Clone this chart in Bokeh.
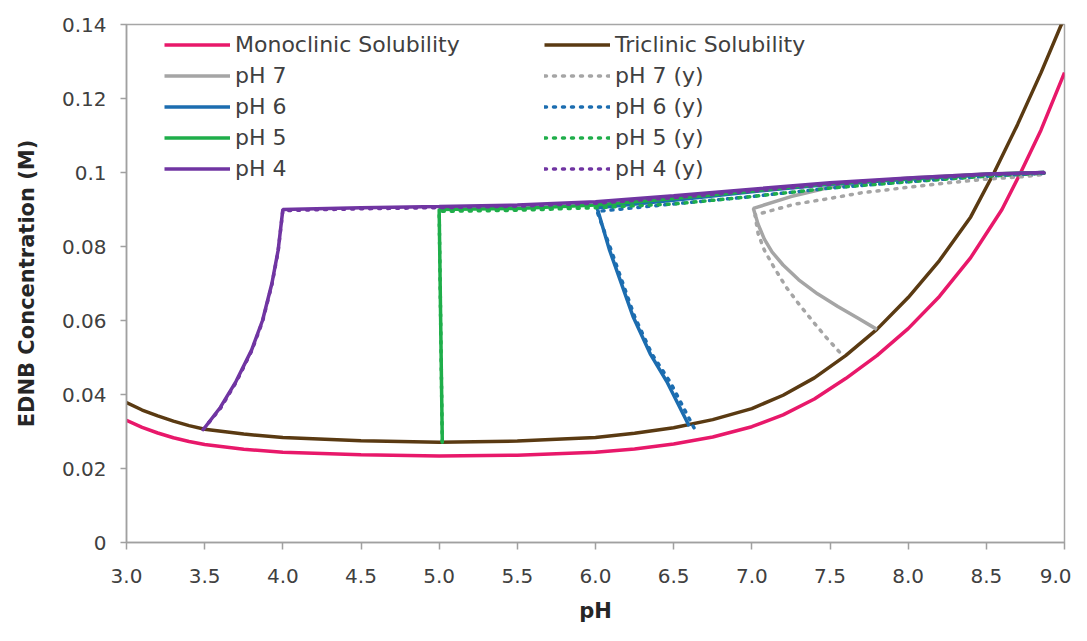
from bokeh.plotting import figure
from bokeh.models import Legend, LegendItem, FixedTicker, Range1d
from bokeh.embed import file_html
from bokeh.resources import INLINE

# ---- data ----
mono_x = [3.0, 3.1, 3.2, 3.3, 3.4, 3.5, 3.75, 4.0, 4.5, 5.0, 5.5, 6.0, 6.25, 6.5, 6.75, 7.0, 7.2, 7.4, 7.6,
          7.8, 8.0, 8.2, 8.4, 8.6, 8.72, 8.85, 9.0]
mono_y = [0.0330, 0.0311, 0.0296, 0.0283, 0.0273, 0.0265, 0.0252, 0.0244, 0.0237, 0.0234, 0.0236, 0.0244,
          0.0253, 0.0266, 0.0285, 0.0313, 0.0345, 0.0388, 0.0443, 0.0505, 0.0578, 0.0665, 0.0770, 0.0900,
          0.1000, 0.1115, 0.1270]
tri_x = [3.0, 3.1, 3.2, 3.3, 3.4, 3.5, 3.75, 4.0, 4.5, 5.0, 5.5, 6.0, 6.25, 6.5, 6.75, 7.0, 7.2, 7.4, 7.6,
         7.8, 8.0, 8.2, 8.4, 8.55, 8.7, 8.85, 9.0]
tri_y = [0.0378, 0.0358, 0.0342, 0.0328, 0.0316, 0.0306, 0.0293, 0.0284, 0.0275, 0.0271, 0.0274, 0.0284,
         0.0295, 0.0310, 0.0332, 0.0362, 0.0398, 0.0445, 0.0505, 0.0576, 0.0662, 0.0762, 0.0880, 0.1000,
         0.1130, 0.1270, 0.1420]

ph7_x = [7.80, 7.68, 7.55, 7.42, 7.30, 7.20, 7.13, 7.08, 7.04, 7.01, 7.25, 7.50, 7.75, 8.00, 8.50, 8.87]
ph7_y = [0.0576, 0.0606, 0.0638, 0.0672, 0.0710, 0.0750, 0.0785, 0.0820, 0.0860, 0.0903, 0.0935, 0.0960,
         0.0975, 0.0985, 0.0996, 0.1000]
ph7y_x = [7.56, 7.47, 7.39, 7.30, 7.22, 7.14, 7.08, 7.04, 7.02, 7.27, 7.50, 7.70, 8.00, 8.25, 8.50, 8.77, 8.87]
ph7y_y = [0.0515, 0.0557, 0.0598, 0.0645, 0.0690, 0.0745, 0.0790, 0.0835, 0.0885, 0.0914, 0.0930, 0.0945,
          0.0960, 0.0972, 0.0982, 0.0990, 0.0995]

ph6_x = [6.60, 6.46, 6.35, 6.24, 6.09, 6.01, 6.50, 7.00, 7.50, 8.00, 8.50, 8.87]
ph6_y = [0.0314, 0.0432, 0.0510, 0.0611, 0.0790, 0.0905, 0.0925, 0.0948, 0.0968, 0.0982, 0.0994, 0.1000]
ph6y_x = [6.63, 6.48, 6.36, 6.25, 6.10, 6.01, 6.50, 7.00, 7.50, 8.00, 8.50, 8.87]
ph6y_y = [0.0310, 0.0432, 0.0510, 0.0611, 0.0790, 0.0895, 0.0915, 0.0935, 0.0958, 0.0975, 0.0990, 0.0998]

ph5_x = [5.02, 5.00, 5.50, 6.00, 6.50, 7.00, 7.50, 8.00, 8.50, 8.87]
ph5_y = [0.0271, 0.0900, 0.0903, 0.0912, 0.0930, 0.0950, 0.0970, 0.0983, 0.0995, 0.1000]
ph5y_x = [5.02, 5.00, 5.50, 6.00, 6.50, 7.00, 7.50, 8.00, 8.50, 8.87]
ph5y_y = [0.0271, 0.0895, 0.0898, 0.0905, 0.0915, 0.0935, 0.0958, 0.0975, 0.0990, 0.0998]

ph4_x = [3.50, 3.60, 3.70, 3.80, 3.87, 3.93, 3.97, 4.00, 4.50, 5.00, 5.50, 6.00, 6.50, 7.00, 7.50, 8.00, 8.50, 8.87]
ph4_y = [0.0310, 0.0365, 0.0435, 0.0520, 0.0600, 0.0700, 0.0790, 0.0900, 0.0905, 0.0908, 0.0912, 0.0921,
         0.0937, 0.0955, 0.0972, 0.0985, 0.0996, 0.1000]
ph4y_x = [3.49, 3.60, 3.70, 3.80, 3.87, 3.93, 3.97, 4.00, 4.50, 5.00, 5.50, 6.00, 6.50, 7.00, 7.50, 8.00, 8.50, 8.87]
ph4y_y = [0.0305, 0.0362, 0.0432, 0.0517, 0.0597, 0.0697, 0.0787, 0.0897, 0.0902, 0.0905, 0.0909, 0.0917,
          0.0932, 0.0950, 0.0968, 0.0982, 0.0994, 0.0999]

x_ticks = [3.0, 3.5, 4.0, 4.5, 5.0, 5.5, 6.0, 6.5, 7.0, 7.5, 8.0, 8.5, 9.0]
x_labels = ["3.0", "3.5", "4.0", "4.5", "5.0", "5.5", "6.0", "6.5", "7.0", "7.5", "8.0", "8.5", "9.0"]
y_ticks = [0, 0.02, 0.04, 0.06, 0.08, 0.1, 0.12, 0.14]
y_labels = ["0", "0.02", "0.04", "0.06", "0.08", "0.1", "0.12", "0.14"]

PINK = "#E8186A"
BROWN = "#5A3A12"
GRAY = "#A5A5A5"
BLUE = "#1C6DB0"
GREEN = "#1FAE4A"
PURPLE = "#7035A2"
FONT = "DejaVu Sans"
TXT = "#404040"

p = figure(width=1071, height=625, output_backend="svg", toolbar_location=None,
           x_range=Range1d(3.0, 9.0), y_range=Range1d(0, 0.14),
           min_border_left=126, min_border_right=7, min_border_top=24, min_border_bottom=83)
p.xgrid.visible = False
p.ygrid.visible = False
p.outline_line_color = "#A6A6A6"
p.outline_line_width = 1.5

W = 3.5
DASH = "2 7"
r_mono = p.line(mono_x, mono_y, line_color=PINK, line_width=W)
r_tri = p.line(tri_x, tri_y, line_color=BROWN, line_width=W)
r7 = p.line(ph7_x, ph7_y, line_color=GRAY, line_width=W)
r7y = p.line(ph7y_x, ph7y_y, line_color=GRAY, line_width=W, line_dash=DASH, line_cap="round")
r6 = p.line(ph6_x, ph6_y, line_color=BLUE, line_width=W)
r6y = p.line(ph6y_x, ph6y_y, line_color=BLUE, line_width=W, line_dash=DASH, line_cap="round")
r5 = p.line(ph5_x, ph5_y, line_color=GREEN, line_width=W)
r5y = p.line(ph5y_x, ph5y_y, line_color=GREEN, line_width=W, line_dash=DASH, line_cap="round")
r4 = p.line(ph4_x, ph4_y, line_color=PURPLE, line_width=W)
r4y = p.line(ph4y_x, ph4y_y, line_color=PURPLE, line_width=W, line_dash=DASH, line_cap="round")

for ax in (p.xaxis[0], p.yaxis[0]):
    ax.axis_line_color = "#A0A0A0"
    ax.axis_line_width = 1.5
    ax.major_tick_line_color = "#A0A0A0"
    ax.major_tick_line_width = 1.5
    ax.minor_tick_line_color = None
    ax.major_tick_in = 0
    ax.major_label_text_font = FONT
    ax.major_label_text_font_size = "20px"
    ax.major_label_text_color = TXT
    ax.axis_label_text_font = FONT
    ax.axis_label_text_font_style = "bold"
    ax.axis_label_text_font_size = "21px"
    ax.axis_label_text_color = "#262626"

p.xaxis.ticker = FixedTicker(ticks=x_ticks)
p.xaxis.major_label_overrides = {t: l for t, l in zip(x_ticks, x_labels)}
p.xaxis.major_tick_out = 7
p.xaxis.major_label_standoff = 19
p.xaxis.axis_label = "pH"
p.xaxis.axis_label_standoff = 13

p.yaxis.ticker = FixedTicker(ticks=y_ticks)
p.yaxis.major_label_overrides = {t: l for t, l in zip(y_ticks, y_labels)}
p.yaxis.major_tick_out = 6
p.yaxis.major_label_standoff = 14
p.yaxis.axis_label = "EDNB Concentration (M)"
p.yaxis.axis_label_standoff = 20

def make_legend(items, loc):
    lg = Legend(items=items, location=loc, orientation="vertical",
                glyph_width=66, glyph_height=31, label_height=31, spacing=0,
                padding=0, margin=0, label_standoff=5,
                label_text_font=FONT, label_text_font_size="22px", label_text_color=TXT,
                border_line_color=None, background_fill_alpha=0)
    return lg

frame_h = 518
leg_h = 5 * 31
leg1 = make_legend([LegendItem(label="Monoclinic Solubility", renderers=[r_mono]),
                    LegendItem(label="pH 7", renderers=[r7]),
                    LegendItem(label="pH 6", renderers=[r6]),
                    LegendItem(label="pH 5", renderers=[r5]),
                    LegendItem(label="pH 4", renderers=[r4])], (38, frame_h - 5 - leg_h))
leg2 = make_legend([LegendItem(label="Triclinic Solubility", renderers=[r_tri]),
                    LegendItem(label="pH 7 (y)", renderers=[r7y]),
                    LegendItem(label="pH 6 (y)", renderers=[r6y]),
                    LegendItem(label="pH 5 (y)", renderers=[r5y]),
                    LegendItem(label="pH 4 (y)", renderers=[r4y])], (418, frame_h - 5 - leg_h))
p.add_layout(leg1, "center")
p.add_layout(leg2, "center")

open("out.html", "w").write(file_html(p, INLINE))
